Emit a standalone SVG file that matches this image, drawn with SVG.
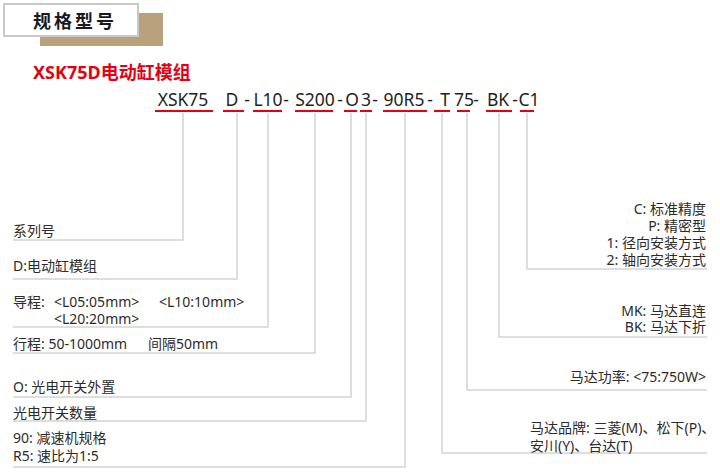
<svg xmlns="http://www.w3.org/2000/svg" width="720" height="476" viewBox="0 0 720 476">
<defs>
<style>
.desc{font-family:"Noto Sans","Noto Sans CJK SC",sans-serif;font-size:14px;fill:#2b2b2b}
.r{text-anchor:end}
.code{font-family:"Noto Sans","Noto Sans CJK SC",sans-serif;font-size:17.5px;fill:#231f20;text-anchor:middle}
.ul{fill:#e60012}
.conn{fill:none;stroke:#d3d3d3;stroke-width:1.5}
</style>
</defs>
<rect width="720" height="476" fill="#ffffff"/>
<g id="header">
<rect x="40" y="13" width="123" height="33" fill="#b9a17c"/>
<rect x="4" y="4" width="134" height="32" fill="#ffffff" stroke="#c9c9c9" stroke-width="2"/>
<text x="33" y="28" style="font-family:'Noto Sans CJK SC',sans-serif;font-size:18px;font-weight:bold;letter-spacing:3px;fill:#1a1a1a">规格型号</text>
</g>
<g id="title">
<text x="33" y="79" style="font-family:'Noto Sans','Noto Sans CJK SC',sans-serif;font-size:18px;font-weight:bold;fill:#e60012">XSK75D电动缸模组</text>
</g>
<g id="connectors">
<path class="conn" d="M183,113V240H13"/>
<path class="conn" d="M237,113V279H13"/>
<path class="conn" d="M268,113V327H13"/>
<path class="conn" d="M315,113V353H13"/>
<path class="conn" d="M351,113V397H13"/>
<path class="conn" d="M366,113V421H13"/>
<path class="conn" d="M405,113V467H13"/>
<path class="conn" d="M442,113V453H707"/>
<path class="conn" d="M467,113V390H707"/>
<path class="conn" d="M499,113V337H707"/>
<path class="conn" d="M527,113V269H707"/>
</g>
<g id="code">
<g id="code-xsk75"><text class="code" x="183" y="106">XSK75</text><rect class="ul" x="155" y="110" width="58" height="2"/></g>
<g id="code-d"><text class="code" x="232" y="106">D</text><rect class="ul" x="223" y="110" width="21" height="2"/></g>
<text class="code" x="247" y="106">-</text>
<g id="code-l10"><text class="code" x="268" y="106">L10</text><rect class="ul" x="253" y="110" width="29" height="2"/></g>
<text class="code" x="286" y="106">-</text>
<g id="code-s200"><text class="code" x="315" y="106">S200</text><rect class="ul" x="295" y="110" width="38" height="2"/></g>
<text class="code" x="340" y="106">-</text>
<g id="code-o"><text class="code" x="352" y="106">O</text><rect class="ul" x="344" y="110" width="13" height="2"/></g>
<g id="code-3"><text class="code" x="366" y="106">3</text><rect class="ul" x="360" y="110" width="12" height="2"/></g>
<text class="code" x="375" y="106">-</text>
<g id="code-90r5"><text class="code" x="404" y="106">90R5</text><rect class="ul" x="383" y="110" width="44" height="2"/></g>
<text class="code" x="430" y="106">-</text>
<g id="code-t"><text class="code" x="445" y="106">T</text><rect class="ul" x="434" y="110" width="16" height="2"/></g>
<g id="code-75"><text class="code" x="464" y="106">75</text><rect class="ul" x="457" y="110" width="13" height="2"/></g>
<text class="code" x="476" y="106">-</text>
<g id="code-bk"><text class="code" x="498" y="106">BK</text><rect class="ul" x="486" y="110" width="26" height="2"/></g>
<text class="code" x="515" y="106">-</text>
<g id="code-c1"><text class="code" x="529" y="106">C1</text><rect class="ul" x="520" y="110" width="14" height="2"/></g>
</g>
<g id="series"><text class="desc" x="13" y="236">系列号</text></g>
<g id="module"><text class="desc" x="13" y="271">D:电动缸模组</text></g>
<g id="lead"><text class="desc" x="13" y="307">导程:<tspan x="54">&lt;L05:05mm&gt;</tspan><tspan x="159">&lt;L10:10mm&gt;</tspan><tspan x="54" y="324">&lt;L20:20mm&gt;</tspan></text></g>
<g id="stroke"><text class="desc" x="13" y="349">行程: 50-1000mm<tspan x="148">间隔50mm</tspan></text></g>
<g id="sensor"><text class="desc" x="13" y="392">O: 光电开关外置</text></g>
<g id="sensor-qty"><text class="desc" x="13" y="418">光电开关数量</text></g>
<g id="reducer"><text class="desc" x="13" y="443">90: 减速机规格</text><text class="desc" x="13" y="461">R5: 速比为1:5</text></g>
<g id="precision">
<text class="desc r" x="706" y="214">C: 标准精度</text>
<text class="desc r" x="706" y="231">P: 精密型</text>
<text class="desc r" x="706" y="248">1: 径向安装方式</text>
<text class="desc r" x="706" y="265">2: 轴向安装方式</text>
</g>
<g id="mount"><text class="desc r" x="706" y="316">MK: 马达直连</text><text class="desc r" x="706" y="332">BK: 马达下折</text></g>
<g id="power"><text class="desc r" x="706" y="382">马达功率: &lt;75:750W&gt;</text></g>
<g id="brand"><text class="desc" x="530" y="433">马达品牌: 三菱(M)、松下(P)、</text><text class="desc" x="530" y="451">安川(Y)、台达(T)</text></g>
</svg>
